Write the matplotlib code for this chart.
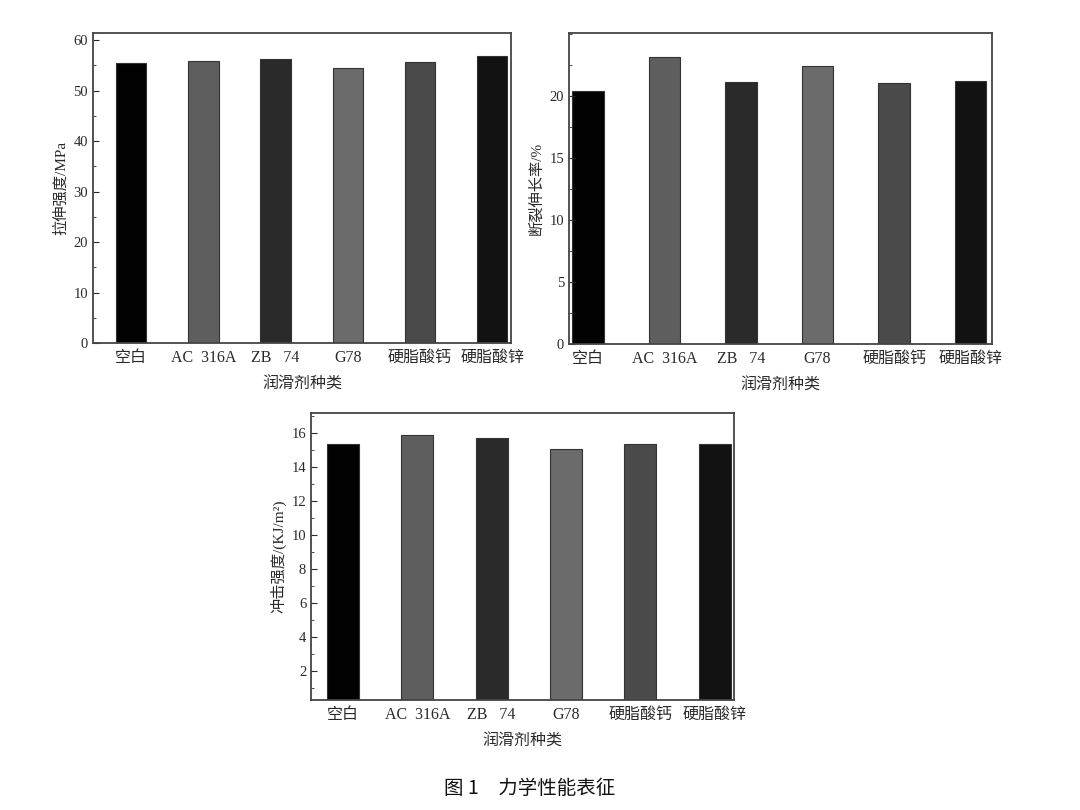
import matplotlib
matplotlib.use('Agg')

import matplotlib.pyplot as plt
from matplotlib.ticker import MultipleLocator

# 数据
categories = ['空白', 'AC  316A', 'ZB   74', 'G78', '硬脂酸钙', '硬脂酸锌']
tensile = [55.5, 55.9, 56.2, 54.5, 55.7, 56.9]
elongation = [20.4, 23.2, 21.15, 22.4, 21.05, 21.2]
impact = [15.4, 15.9, 15.7, 15.1, 15.4, 15.4]
bar_colors = ['#020202', '#5e5e5e', '#2a2a2a', '#6b6b6b', '#4a4a4a', '#121212']

plt.rcParams['font.family'] = ['Liberation Serif', 'Noto Sans CJK SC']
txt = '#2a2a2a'


def draw(ax, values, ylabel, ylim, major, minor, xlim, width, yticks=None):
    x = list(range(len(values)))
    ax.bar(x, values, width=width, color=bar_colors, edgecolor='#333333', linewidth=0.8)
    ax.set_xlim(*xlim)
    ax.set_ylim(*ylim)
    ax.set_xticks(x)
    ax.set_xticklabels(categories, fontsize=11.5, color=txt)
    ax.yaxis.set_major_locator(MultipleLocator(major))
    ax.yaxis.set_minor_locator(MultipleLocator(minor))
    if yticks is not None:
        ax.set_yticks(yticks)
    ax.tick_params(axis='y', which='both', direction='in', labelsize=10.5, colors=txt)
    ax.tick_params(axis='y', which='major', length=4)
    ax.tick_params(axis='y', which='minor', length=2.5)
    ax.tick_params(axis='x', length=0, pad=5)
    ax.set_ylabel(ylabel, fontsize=11, color=txt, labelpad=4)
    ax.set_xlabel('润滑剂种类', fontsize=11.5, color=txt, labelpad=8)
    for s in ax.spines.values():
        s.set_color('#444444')
        s.set_linewidth(1.3)


fig = plt.figure(figsize=(10.8, 8.1), dpi=100)

# 像素位置换算成图坐标
ax1 = fig.add_axes([93 / 1080, 1 - 343 / 810, 418 / 1080, 310 / 810])
draw(ax1, tensile, '拉伸强度/MPa', (0, 61.4), 10, 5, (-0.53, 5.26), 0.42)

ax2 = fig.add_axes([569 / 1080, 1 - 344 / 810, 423 / 1080, 311 / 810])
draw(ax2, elongation, '断裂伸长率/%', (0, 25.1), 5, 2.5, (-0.25, 5.28), 0.41,
     yticks=[0, 5, 10, 15, 20])

ax3 = fig.add_axes([311 / 1080, 1 - 700 / 810, 423 / 1080, 287 / 810])
draw(ax3, impact, '冲击强度/(KJ/m²)', (0.3, 17.2), 2, 1, (-0.43, 5.26), 0.43,
     yticks=[2, 4, 6, 8, 10, 12, 14, 16])

fig.text(530 / 1080, 1 - 788 / 810, '图 1　力学性能表征', ha='center', va='center',
         fontsize=14, fontweight='medium', family=['Noto Sans CJK SC', 'DejaVu Sans'],
         color='#111111')

fig.savefig('out.png', dpi=100)
